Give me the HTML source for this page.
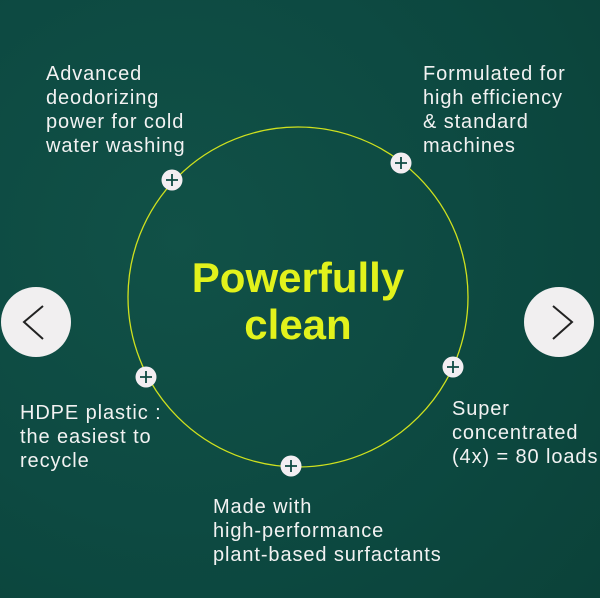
<!DOCTYPE html>
<html><head><style>
body{margin:0;width:600px;height:598px;overflow:hidden;background:#0e4a42;font-family:"Liberation Sans",sans-serif;}
.bg{position:absolute;inset:0;background:radial-gradient(circle at 30% 40%,#115147 0%,#0d4a42 50%,#0b4239 100%);}
.t{position:absolute;color:#f2f2f2;font-size:20px;letter-spacing:0.9px;line-height:24px;white-space:nowrap;}
.title{position:absolute;left:100px;width:396px;top:254px;text-align:center;color:#e2f21c;font-weight:bold;font-size:42px;line-height:47px;}
.nav{position:absolute;width:70px;height:70px;border-radius:50%;background:#f1eff0;}
</style></head><body>
<div class="bg"></div>
<svg width="600" height="598" style="position:absolute;left:0;top:0">
<circle cx="298" cy="297" r="170" fill="none" stroke="#cfe11e" stroke-width="1.3"/>
<g fill="#f3eef2">
<circle cx="172" cy="180" r="10.5"/><circle cx="401" cy="163" r="10.5"/>
<circle cx="146" cy="377" r="10.5"/><circle cx="453" cy="367" r="10.5"/><circle cx="291" cy="466" r="10.5"/>
</g>
<g stroke="#0e4a42" stroke-width="1.8">
<path d="M166 180h12M172 174v12"/><path d="M395 163h12M401 157v12"/>
<path d="M140 377h12M146 371v12"/><path d="M447 367h12M453 361v12"/><path d="M285 466h12M291 460v12"/>
</g>
</svg>
<div class="nav" style="left:1px;top:287px"></div>
<div class="nav" style="left:524px;top:287px"></div>
<svg width="600" height="598" style="position:absolute;left:0;top:0">
<path d="M43 306L24 322L43 339" fill="none" stroke="#222" stroke-width="2"/>
<path d="M553 306L572 322L553 339" fill="none" stroke="#222" stroke-width="2"/>
</svg>
<div class="t" style="left:46px;top:62px">Advanced<br>deodorizing<br>power for cold<br>water washing</div>
<div class="t" style="left:423px;top:62px">Formulated for<br>high efficiency<br>&amp; standard<br>machines</div>
<div class="t" style="left:20px;top:401px">HDPE plastic :<br>the easiest to<br>recycle</div>
<div class="t" style="left:452px;top:397px">Super<br>concentrated<br>(4x) = 80 loads</div>
<div class="t" style="left:213px;top:495px">Made with<br>high-performance<br>plant-based surfactants</div>
<div class="title">Powerfully<br>clean</div>
</body></html>
